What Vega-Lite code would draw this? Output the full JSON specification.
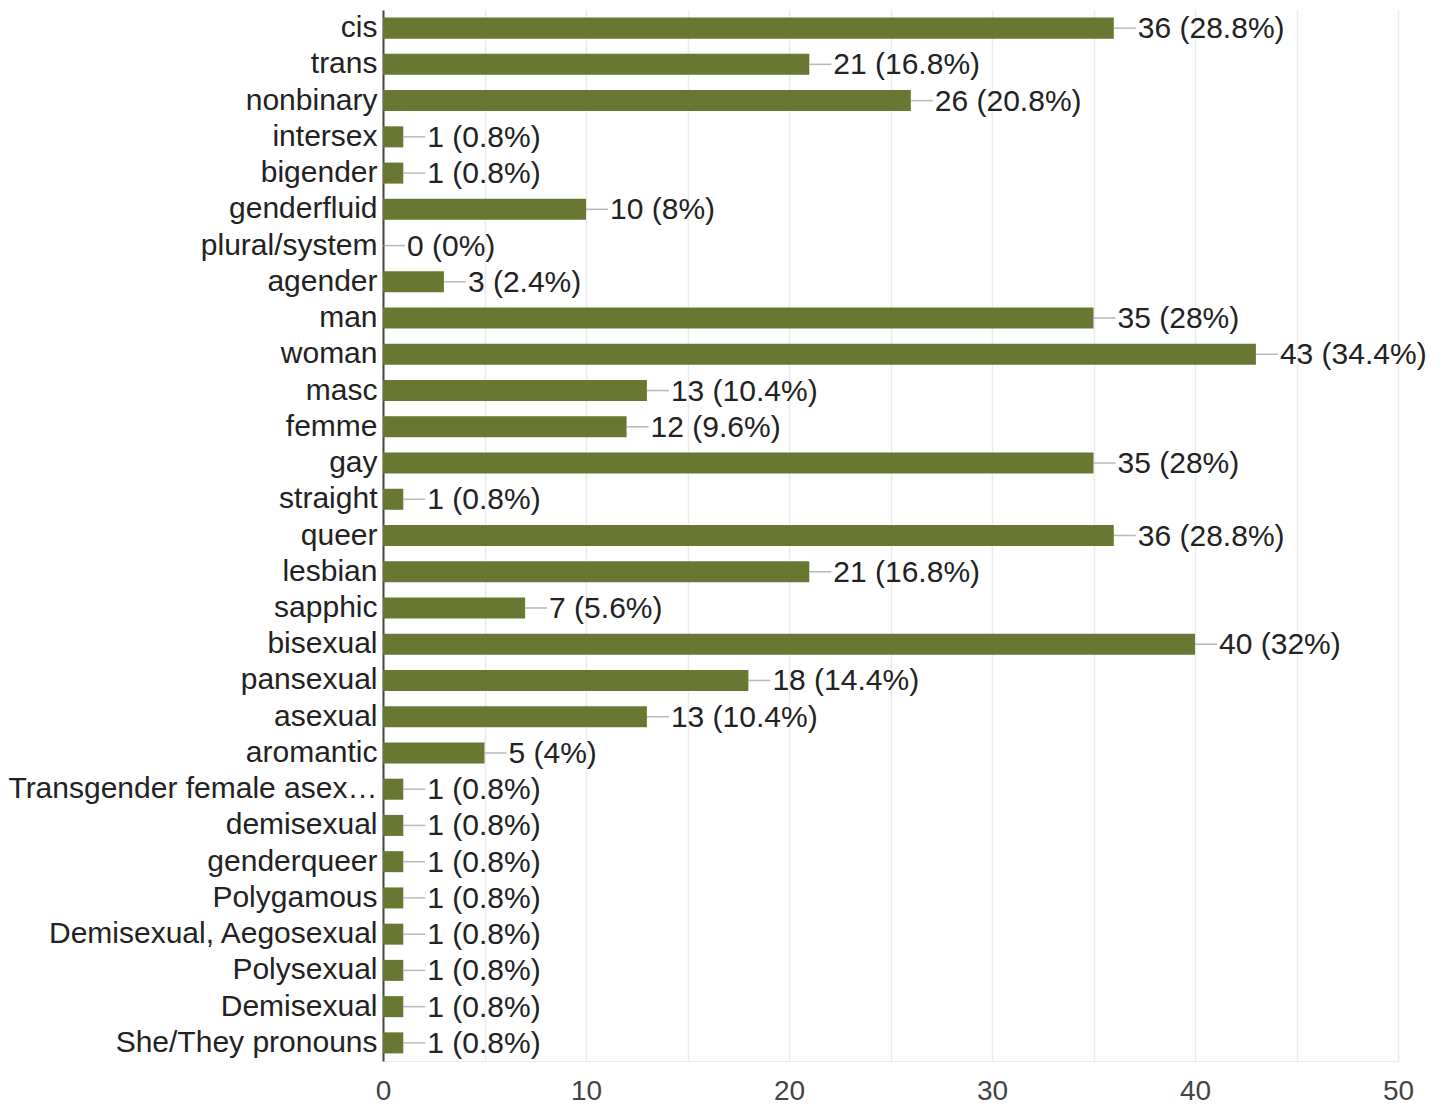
{
  "$schema": "https://vega.github.io/schema/vega-lite/v6.json",
  "autosize": {"type": "none"},
  "padding": {"left": 383, "top": 10, "right": 45, "bottom": 48},
  "width": 1015,
  "height": 1051,
  "background": "white",
  "config": {
    "font": "Liberation Sans",
    "view": {"stroke": null}
  },
  "data": {
    "values": [
      {"category": "cis", "count": 36, "label": "36 (28.8%)"},
      {"category": "trans", "count": 21, "label": "21 (16.8%)"},
      {"category": "nonbinary", "count": 26, "label": "26 (20.8%)"},
      {"category": "intersex", "count": 1, "label": "1 (0.8%)"},
      {"category": "bigender", "count": 1, "label": "1 (0.8%)"},
      {"category": "genderfluid", "count": 10, "label": "10 (8%)"},
      {"category": "plural/system", "count": 0, "label": "0 (0%)"},
      {"category": "agender", "count": 3, "label": "3 (2.4%)"},
      {"category": "man", "count": 35, "label": "35 (28%)"},
      {"category": "woman", "count": 43, "label": "43 (34.4%)"},
      {"category": "masc", "count": 13, "label": "13 (10.4%)"},
      {"category": "femme", "count": 12, "label": "12 (9.6%)"},
      {"category": "gay", "count": 35, "label": "35 (28%)"},
      {"category": "straight", "count": 1, "label": "1 (0.8%)"},
      {"category": "queer", "count": 36, "label": "36 (28.8%)"},
      {"category": "lesbian", "count": 21, "label": "21 (16.8%)"},
      {"category": "sapphic", "count": 7, "label": "7 (5.6%)"},
      {"category": "bisexual", "count": 40, "label": "40 (32%)"},
      {"category": "pansexual", "count": 18, "label": "18 (14.4%)"},
      {"category": "asexual", "count": 13, "label": "13 (10.4%)"},
      {"category": "aromantic", "count": 5, "label": "5 (4%)"},
      {"category": "Transgender female asex…", "count": 1, "label": "1 (0.8%)"},
      {"category": "demisexual", "count": 1, "label": "1 (0.8%)"},
      {"category": "genderqueer", "count": 1, "label": "1 (0.8%)"},
      {"category": "Polygamous", "count": 1, "label": "1 (0.8%)"},
      {"category": "Demisexual, Aegosexual", "count": 1, "label": "1 (0.8%)"},
      {"category": "Polysexual", "count": 1, "label": "1 (0.8%)"},
      {"category": "Demisexual", "count": 1, "label": "1 (0.8%)"},
      {"category": "She/They pronouns", "count": 1, "label": "1 (0.8%)"}
    ]
  },
  "encoding": {
    "y": {
      "field": "category",
      "type": "nominal",
      "sort": null,
      "scale": {"paddingInner": 0.42, "paddingOuter": 0.21},
      "axis": {
        "title": null,
        "ticks": false,
        "labelFontSize": 30,
        "labelColor": "#222222",
        "labelPadding": 6,
        "labelLimit": 400,
        "domainColor": "#444444",
        "domainWidth": 2
      }
    },
    "x": {
      "field": "count",
      "type": "quantitative",
      "scale": {"domain": [0, 50], "nice": false},
      "axis": {
        "title": null,
        "values": [0, 5, 10, 15, 20, 25, 30, 35, 40, 45, 50],
        "labelExpr": "datum.value % 10 == 0 ? datum.label : ''",
        "labelFlush": false,
        "labelOverlap": false,
        "ticks": false,
        "grid": true,
        "gridColor": "#ebebeb",
        "gridWidth": 1.5,
        "domainColor": "#ebebeb",
        "labelFontSize": 28,
        "labelColor": "#444444",
        "labelPadding": 16
      }
    }
  },
  "layer": [
    {
      "mark": {"type": "bar", "color": "#687832"}
    },
    {
      "mark": {"type": "tick", "orient": "horizontal", "size": 22, "thickness": 1.5, "color": "#9a9a9a", "xOffset": 11}
    },
    {
      "mark": {"type": "text", "align": "left", "baseline": "middle", "dx": 24, "dy": 1, "fontSize": 30, "color": "#222222"},
      "encoding": {"text": {"field": "label"}}
    }
  ]
}
